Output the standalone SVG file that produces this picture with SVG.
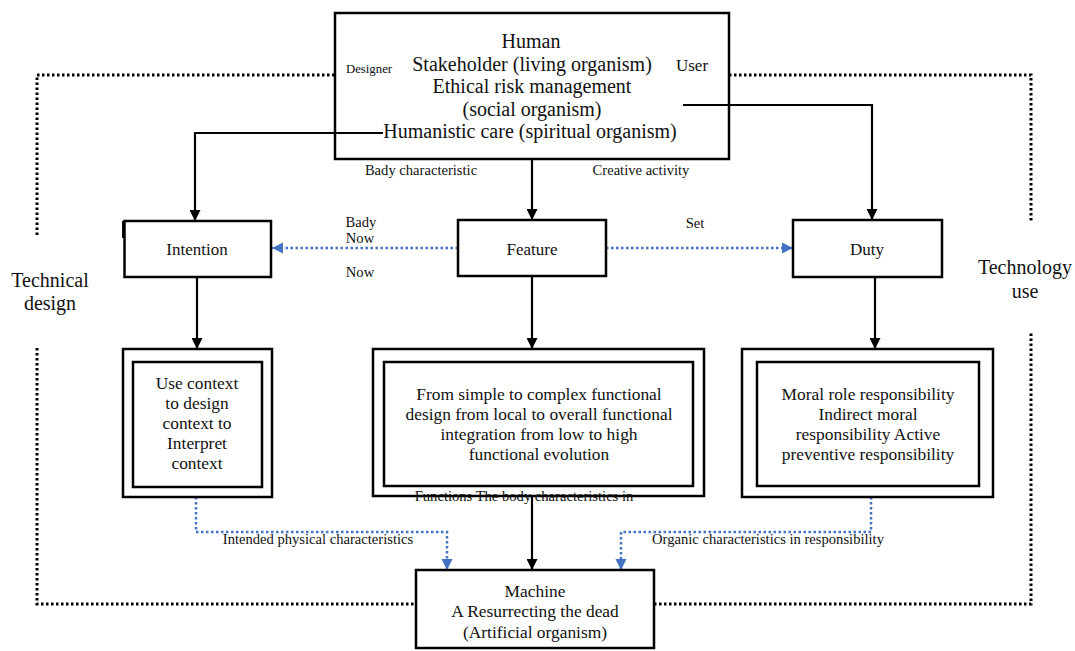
<svg xmlns="http://www.w3.org/2000/svg" width="1075" height="651" viewBox="0 0 1075 651" font-family="'Liberation Serif', 'Times New Roman', 'DejaVu Serif', serif">
<defs>
<style>
text{font-family:'Liberation Serif','Times New Roman','DejaVu Serif',serif;fill:#111;text-anchor:middle}
.box{fill:#fff;stroke:#000;stroke-width:2.5}
.frame{fill:none;stroke:#000;stroke-width:3;stroke-dasharray:2.5 2.5}
.conn{fill:none;stroke:#000;stroke-width:2.2}
.blue{fill:none;stroke:#4472C4;stroke-width:2.5;stroke-dasharray:2.5 2.5}
.big{font-size:20px}
.mid{font-size:17.4px}
.node{font-size:17px}
.sm{font-size:14.6px}
</style>
<marker id="ah" viewBox="0 0 10 10" refX="10" refY="5" markerWidth="5" markerHeight="5" orient="auto" markerUnits="strokeWidth"><path d="M0,0 L10,5 L0,10 z" fill="#000"/></marker>
<marker id="bh" viewBox="0 0 10 10" refX="10" refY="5" markerWidth="4.5" markerHeight="4.5" orient="auto" markerUnits="strokeWidth"><path d="M0,0 L10,5 L0,10 z" fill="#4472C4"/></marker>
</defs>
<rect width="1075" height="651" fill="#fff"/>

<g id="frames">
<path class="frame" d="M37,235 V75 H335"/>
<path class="frame" d="M729,75 H1031 V223"/>
<path class="frame" d="M37,348 V604 H416"/>
<path class="frame" d="M654,604 H1031 V333"/>
<text class="big" x="50" y="287">Technical</text>
<text class="big" x="50" y="310">design</text>
<text class="big" x="1025" y="274">Technology</text>
<text class="big" x="1025" y="298">use</text>
</g>

<g id="connectors">
<path class="conn" d="M383,133 H195 V221" marker-end="url(#ah)"/>
<path class="conn" d="M683,105 H872 V220" marker-end="url(#ah)"/>
<path class="conn" d="M532,159 V220" marker-end="url(#ah)"/>
<path class="conn" d="M197,277 V349" marker-end="url(#ah)"/>
<path class="conn" d="M532,276 V349" marker-end="url(#ah)"/>
<path class="conn" d="M875,277 V349" marker-end="url(#ah)"/>
<path class="conn" d="M532,496 V570" marker-end="url(#ah)"/>
<path class="blue" d="M458,248 H272" marker-end="url(#bh)"/>
<path class="blue" d="M606,248 H793" marker-end="url(#bh)"/>
<path class="blue" d="M196,497 V532 H447 V570" marker-end="url(#bh)"/>
<path class="blue" d="M871,497 V532 H621 V570" marker-end="url(#bh)"/>
<text class="sm" x="361" y="227">Bady</text>
<text class="sm" x="360" y="243">Now</text>
<text class="sm" x="360" y="277">Now</text>
<text class="sm" x="695" y="228">Set</text>
<text class="sm" x="421" y="175">Bady characteristic</text>
<text class="sm" x="641" y="175">Creative activity</text>
<text class="sm" x="318" y="544">Intended physical characteristics</text>
<text class="sm" x="768" y="544">Organic characteristics in responsibility</text>
</g>

<g id="human">
<rect class="box" x="335" y="13" width="394" height="146" fill-opacity="0"/>
<text class="big" x="531" y="48">Human</text>
<text class="big" x="532" y="71">Stakeholder (living organism)</text>
<text class="big" x="532" y="93">Ethical risk management</text>
<text class="big" x="532" y="116">(social organism)</text>
<text class="big" x="530" y="138">Humanistic care (spiritual organism)</text>
<text x="369" y="73" style="font-size:12.8px">Designer</text>
<text x="692" y="71" style="font-size:17px">User</text>
</g>

<g id="intention">
<rect class="box" x="124.5" y="221" width="146.5" height="56"/>
<path d="M123.3,221 V238" stroke="#000" stroke-width="2.5"/>
<text class="node" x="197" y="255">Intention</text>
</g>
<g id="feature">
<rect class="box" x="458" y="220" width="148" height="56"/>
<text class="node" x="532" y="255">Feature</text>
</g>
<g id="duty">
<rect class="box" x="793" y="220" width="149" height="57"/>
<text class="node" x="867" y="255">Duty</text>
</g>

<g id="context">
<rect class="box" x="123" y="349" width="149" height="148"/>
<rect class="box" x="133" y="362" width="129" height="125"/>
<text class="mid" x="197" y="389">Use context</text>
<text class="mid" x="197" y="409">to design</text>
<text class="mid" x="197" y="429">context to</text>
<text class="mid" x="197" y="449">Interpret</text>
<text class="mid" x="197" y="469">context</text>
</g>

<g id="functional">
<rect class="box" x="373" y="349" width="331" height="147"/>
<rect class="box" x="384" y="362" width="309" height="124"/>
<text class="mid" x="539" y="400">From simple to complex functional</text>
<text class="mid" x="539" y="420">design from local to overall functional</text>
<text class="mid" x="539" y="440">integration from low to high</text>
<text class="mid" x="539" y="460">functional evolution</text>
<text class="sm" x="524" y="501">Functions The body characteristics in</text>
</g>

<g id="responsibility">
<rect class="box" x="742" y="349" width="251" height="148"/>
<rect class="box" x="757" y="362" width="222" height="124"/>
<text class="mid" x="868" y="400">Moral role responsibility</text>
<text class="mid" x="868" y="420">Indirect moral</text>
<text class="mid" x="868" y="440">responsibility Active</text>
<text class="mid" x="868" y="460">preventive responsibility</text>
</g>

<g id="machine">
<rect class="box" x="416" y="570" width="238" height="78"/>
<text class="mid" x="535" y="597">Machine</text>
<text class="mid" x="535" y="617">A Resurrecting the dead</text>
<text class="mid" x="535" y="638">(Artificial organism)</text>
</g>
</svg>
